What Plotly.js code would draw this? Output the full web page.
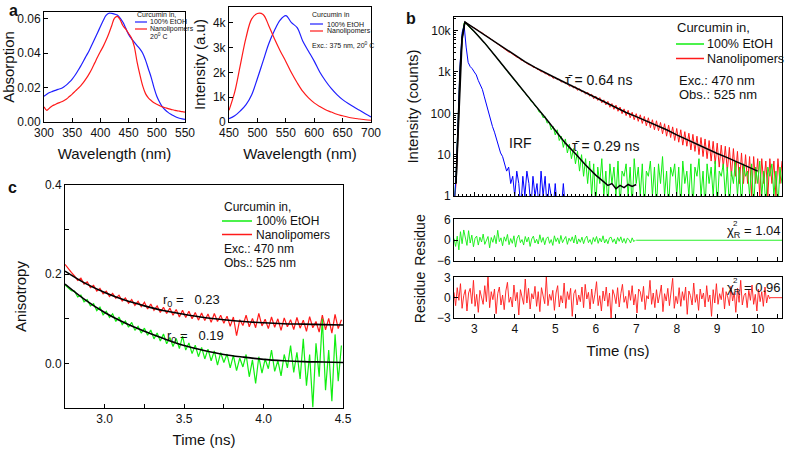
<!DOCTYPE html>
<html>
<head>
<meta charset="utf-8">
<script src="https://cdn.plot.ly/plotly-3.0.1.min.js"></script>
<style>html,body{margin:0;padding:0;background:#fff}</style>
</head>
<body>
<div id="chart" style="width:785px;height:450px"></div>
<script>
// ---- panel a: absorption (300-550 nm, every 5 nm) ----
const absStart = 300, absStep = 5;
const absEtOH = [0.0150, 0.0162, 0.0172, 0.0178, 0.0184, 0.0190, 0.0195, 0.0204, 0.0216, 0.0232,
  0.0250, 0.0272, 0.0298, 0.0325, 0.0355, 0.0385, 0.0415, 0.0450, 0.0485, 0.0520,
  0.0555, 0.0590, 0.0620, 0.0633, 0.0632, 0.0628, 0.0622, 0.0605, 0.0580, 0.0545,
  0.0510, 0.0485, 0.0465, 0.0445, 0.0425, 0.0400, 0.0360, 0.0310, 0.0260, 0.0200,
  0.0150, 0.0115, 0.0088, 0.0070, 0.0056, 0.0045, 0.0036, 0.0028, 0.0022, 0.0018, 0.0015];
const absNano = [0.0088, 0.0068, 0.0082, 0.0094, 0.0102, 0.0110, 0.0116, 0.0124, 0.0134, 0.0148,
  0.0162, 0.0178, 0.0194, 0.0210, 0.0230, 0.0254, 0.0280, 0.0310, 0.0344, 0.0378,
  0.0410, 0.0440, 0.0475, 0.0515, 0.0560, 0.0605, 0.0615, 0.0595, 0.0560, 0.0540,
  0.0515, 0.0490, 0.0440, 0.0350, 0.0275, 0.0210, 0.0165, 0.0140, 0.0125, 0.0112,
  0.0103, 0.0095, 0.0088, 0.0083, 0.0078, 0.0073, 0.0070, 0.0066, 0.0063, 0.0060, 0.0058];

// ---- panel a: emission (450-700 nm, every 10 nm) ----
const emStart = 450, emStep = 10;
const emEtOH = [130, 250, 450, 700, 1100, 1750, 2450, 3150, 3680, 4100, 4280, 4000, 3800,
  3250, 2850, 2450, 2000, 1650, 1350, 1100, 900, 740, 600, 470, 330, 200];
const emNano = [470, 1200, 2300, 3400, 4150, 4370, 4330, 3880, 3350, 2870, 2440, 1980, 1580,
  1230, 970, 770, 620, 490, 400, 310, 250, 190, 150, 120, 90, 70];

// ---- panel b: decays (counts, from 2.5 ns every 0.05 ns) ----
const decayStart = 2.5, decayStep = 0.05;
const decayNano = [0.5, 2, 45, 950, 6200, 14800, 15400, 14100, 13400, 12300,
  11700, 10700, 10200, 9300, 8900, 7900, 7500, 6900, 6500, 5900,
  5450, 4950, 4650, 4200, 4000, 3600, 3400, 3050, 2920, 2650,
  2540, 2290, 2180, 1960, 1880, 1740, 1690, 1500, 1470, 1300,
  1310, 1160, 1130, 1020, 1010, 910, 900, 800, 820, 700,
  750, 650, 670, 570, 590, 520, 540, 450, 480, 410,
  440, 360, 395, 330, 345, 290, 325, 260, 290, 225,
  262, 205, 240, 180, 212, 160, 195, 140, 172, 125,
  158, 112, 142, 98, 128, 88, 118, 78, 106, 70,
  98, 64, 92, 57, 84, 50, 78, 45, 70, 40,
  66, 38, 60, 32, 56, 28, 52, 26, 47, 22,
  43, 20, 40, 17, 36, 16, 33, 13, 31, 12,
  28, 10, 26, 9, 24, 8, 22, 7, 21, 6,
  19, 5, 17, 5, 16, 4, 15, 3, 14, 3,
  12, 2, 11, 2, 10, 2, 9, 1, 9, 2,
  8, 1, 8, 2, 7, 1, 8, 2, 7, 1,
  8, 2, 7];
const decayEtOH = [0.5, 3, 60, 1200, 7500, 15500, 14800, 12600, 11500, 10400,
  9600, 8600, 7500, 6700, 5800, 5100, 4500, 3950, 3400, 2950,
  2580, 2250, 1950, 1680, 1450, 1270, 1090, 960, 820, 730,
  620, 560, 460, 420, 350, 320, 265, 245, 195, 185,
  150, 140, 108, 104, 78, 84, 58, 62, 40, 48,
  30, 40, 22, 28, 15, 24, 11, 18, 8, 14,
  6, 12, 4, 10, 3, 8, 2, 7, 1, 6,
  0.5, 5, 2, 8, 1, 4, 0.5, 6, 2, 5,
  1, 7, 0.5, 4, 3, 6, 1, 5, 0.5, 8,
  2, 5, 1, 6, 0.5, 4, 3, 7, 1, 5,
  0.5, 6, 2, 9, 1, 4, 0.5, 5, 3, 6,
  1, 5, 0.5, 7, 2, 4, 1, 6, 0.5, 5,
  3, 8, 1, 4, 0.5, 6, 2, 5, 1, 7,
  0.5, 4, 3, 6, 1, 5, 0.5, 4, 2, 7,
  1, 5, 0.5, 6, 3, 4, 1, 6, 0.5, 5,
  2, 7, 1, 4, 0.5, 5, 3, 6, 1, 4,
  0.5, 5, 2];
const decayIRF = [0.5, 3, 60, 1500, 9000, 13500, 4000, 1700, 1350, 1200,
  1000, 850, 620, 480, 380, 250, 160, 100, 75, 48,
  35, 24, 18, 11, 9, 6, 4, 5, 2, 3,
  1, 4, 2, 0.5, 3, 1, 4, 2, 0.5, 3,
  1, 2, 0.5, 4, 1, 3, 0.5, 2, 1, 0.5,
  2, 0.5, 1, 0.5, 2, 0.5, 0.5, 1, 0.5, 1,
  0.5, 0.5, 1, 0.5, 0.5, 1, 0.5];

const fitNanoTime = [2.55, 2.6, 2.65, 2.7, 2.77, 3.0, 3.25, 3.5, 3.75, 4.0, 4.25, 4.5, 4.75, 5.0,
  5.25, 5.5, 5.75, 6.0, 6.25, 6.5, 6.75, 7.0, 7.25, 7.5, 7.75, 8.0, 8.25, 8.5, 8.75, 9.0,
  9.25, 9.5, 9.75, 10.0];
const fitNano = [2, 40, 900, 6000, 16200, 11500, 7760, 5370, 3630, 2510, 1780, 1290, 955, 724,
  550, 417, 316, 240, 182, 138, 105, 83, 66, 52, 40, 30, 23, 17.4, 13.5, 10.7,
  8.5, 6.6, 5.0, 4.0];
const fitEtOHTime = [2.55, 2.6, 2.65, 2.7, 2.77, 3.0, 3.25, 3.5, 3.75, 4.0, 4.25, 4.5, 4.75, 5.0,
  5.25, 5.5, 5.75, 6.0, 6.1, 6.2, 6.3, 6.4, 6.5, 6.6, 6.7, 6.8, 6.9, 7.0];
const fitEtOH = [2, 50, 1100, 7000, 16200, 9550, 5130, 2570, 1260, 630, 316, 158, 79, 38,
  19, 10.5, 5.6, 3.2, 2.7, 2.2, 1.8, 2.0, 1.5, 1.8, 1.6, 1.9, 1.7, 1.9];

// ---- panel b: residues (from 2.5 ns every 0.04 ns) ----
const resStart = 2.5, resStep = 0.04;
const resEtOH = [0.5, -1.8, 1.2, -2.8, 2.5, -1.0, 3.0, 0.4, -1.5, 2.8,
  -0.8, 1.5, -1.9, 0.6, 1.2, -1.4, 0.9, -0.5, 1.8, -1.2,
  0.3, 1.1, -2.2, 0.8, -0.6, 1.4, -1.0, 2.9, -0.4, 0.7,
  -1.6, 1.0, -0.3, 1.7, -1.3, 0.5, -0.9, 1.3, -2.0, 0.6,
  1.5, -0.7, 0.2, -1.4, 1.1, -0.5, 0.9, -1.8, 0.4, 1.2,
  -0.8, 0.3, -1.1, 1.6, -0.6, 0.8, -1.3, 0.5, 1.0, -0.9,
  0.2, -1.5, 1.3, -0.4, 0.7, -1.0, 1.4, -0.7, 0.3, 1.1,
  -1.2, 0.6, -0.3, 1.0, -0.8, 1.5, -1.1, 0.4, -0.6, 0.9,
  -1.0, 0.5, 1.2, -0.7, 0.2, -1.2, 0.8, -0.4, 1.1, -0.9,
  0.6, -0.5, 1.3, -0.8, 0.3, -1.0, 0.7, 0.9, -0.6, 0.4,
  -1.1, 0.8, -0.3, 1.0, -0.7, 0.5, -0.9, 0.6, 0.2, -0.8,
  0.7, -0.4, 0.1];
const resEtOHTailTime = [7.0, 10.6];
const resEtOHTail = [0, 0];
const resNano = [0.8, -1.2, 1.5, -0.4, 2.1, -1.6, 0.3, 1.2, -2.0, 0.7,
  1.4, -0.9, 2.6, -1.3, 0.5, -2.2, 1.1, 0.2, -1.0, 1.8,
  -0.6, 3.2, -1.5, 0.9, -0.3, 1.3, -2.4, 0.6, 1.6, -1.1,
  0.4, -1.8, 1.0, 2.3, -0.7, 0.1, -1.4, 1.9, -0.5, 0.8,
  -2.6, 1.2, 0.3, -1.0, 2.8, -0.8, 1.4, -1.7, 0.6, -0.2,
  1.7, -1.3, 0.9, -2.1, 1.5, 0.2, -0.9, 3.1, -1.2, 0.5,
  -0.4, 1.1, -1.9, 0.7, 1.8, -1.4, 0.3, -0.8, 2.2, -1.6,
  0.9, -0.3, 1.4, -2.8, 0.6, 1.2, -1.1, 0.4, -0.6, 1.6,
  -1.5, 2.0, -0.2, 0.8, -1.7, 1.3, -0.9, 0.5, 2.4, -1.2,
  0.3, -2.0, 1.0, -0.5, 1.6, -1.3, 0.7, -3.2, 1.2, 0.4,
  -0.9, 1.5, -1.4, 0.6, 2.0, -0.7, 0.2, -1.6, 1.1, -0.4,
  1.8, -1.1, 0.5, -2.3, 1.3, 0.9, -0.6, 1.7, -1.8, 0.3,
  -0.2, 2.6, -1.0, 0.7, -1.5, 1.2, -0.8, 0.4, 1.9, -2.1,
  0.6, -0.5, 1.4, -1.2, 0.8, 2.9, -1.6, 0.2, -0.9, 1.5,
  -1.3, 0.9, -0.4, 1.6, -2.5, 1.0, 0.3, -1.1, 2.2, -0.7,
  0.5, -1.9, 1.3, -0.2, 0.7, -1.4, 1.8, -0.6, 0.4, -2.8,
  1.2, -0.8, 2.1, -1.0, 0.6, -0.3, 1.5, -1.7, 0.9, 0.1,
  -1.2, 1.7, -0.5, 0.8, -2.2, 1.4, -0.7, 2.6, -1.1, 0.3,
  0.7, -1.5, 1.1, -0.4, 1.9, -1.0, 0.5, -2.0, 1.3, -0.6,
  0.9, -1.3, 1.6, -0.8, 0.4, -0.2];
const resNanoTailTime = [10.3, 10.6];
const resNanoTail = [0, 0];

// ---- panel c: anisotropy (from 2.75 ns every 0.02 ns) ----
const anisoStart = 2.75, anisoStep = 0.02;
const anisoNano = [0.222, 0.212, 0.204, 0.196, 0.186, 0.191, 0.178, 0.183, 0.170, 0.175,
  0.162, 0.168, 0.156, 0.162, 0.150, 0.157, 0.146, 0.153, 0.140, 0.147,
  0.135, 0.143, 0.130, 0.139, 0.127, 0.137, 0.122, 0.133, 0.119, 0.129,
  0.114, 0.126, 0.112, 0.124, 0.108, 0.121, 0.104, 0.119, 0.103, 0.117,
  0.100, 0.114, 0.097, 0.113, 0.096, 0.111, 0.092, 0.112, 0.094, 0.108,
  0.090, 0.106, 0.083, 0.104, 0.062, 0.098, 0.085, 0.108, 0.082, 0.101,
  0.080, 0.112, 0.084, 0.099, 0.078, 0.104, 0.081, 0.100, 0.074, 0.102,
  0.082, 0.098, 0.076, 0.103, 0.079, 0.097, 0.072, 0.105, 0.080, 0.094,
  0.070, 0.108, 0.075, 0.101, 0.068, 0.110, 0.078, 0.098];
const anisoEtOH = [0.176, 0.170, 0.163, 0.162, 0.149, 0.153, 0.138, 0.143, 0.129, 0.134,
  0.118, 0.126, 0.109, 0.117, 0.103, 0.111, 0.094, 0.104, 0.087, 0.095,
  0.081, 0.092, 0.074, 0.083, 0.068, 0.079, 0.063, 0.075, 0.055, 0.068,
  0.050, 0.066, 0.044, 0.058, 0.038, 0.056, 0.033, 0.061, 0.030, 0.046,
  0.022, 0.041, 0.015, 0.036, 0.010, 0.032, 0.006, 0.028, -0.004, 0.024,
  0.002, 0.021, -0.010, 0.018, -0.016, 0.012, -0.008, 0.020, -0.030, 0.008,
  -0.045, 0.015, -0.022, 0.010, -0.012, 0.030, -0.018, 0.006, -0.028, 0.020,
  -0.010, 0.040, -0.020, 0.025, -0.035, 0.055, -0.050, 0.020, -0.098, 0.045,
  -0.030, 0.100, -0.060, 0.030, -0.085, 0.065, -0.040, 0.040];
const anisoFitStart = 2.75, anisoFitStep = 0.125;
const anisoFitNano = [0.207, 0.180, 0.159, 0.142, 0.129, 0.118, 0.110, 0.103, 0.098, 0.094,
  0.091, 0.089, 0.088, 0.087, 0.086];
const anisoFitEtOH = [0.178, 0.143, 0.114, 0.091, 0.072, 0.055, 0.040, 0.029, 0.020, 0.014,
  0.009, 0.006, 0.004, 0.003, 0.002];

const W = 785, H = 450;
const BLUE = '#1f1fff', RED = '#ff1a1a', GREEN = '#11ee11';
const FONT = 'Liberation Sans, Arial, sans-serif';

function dx(l, r) { return [l / W, r / W]; }
function dy(t, b) { return [1 - b / H, 1 - t / H]; }

function axis(extra) {
  return Object.assign({
    showline: true, mirror: true, linecolor: '#000', linewidth: 1,
    ticks: 'inside', ticklen: 4, tickcolor: '#000', showgrid: false, zeroline: false,
    tickfont: { size: 12, color: '#111' }
  }, extra);
}

function line(color, width) { return { color: color, width: width || 1 }; }

const traces = [
  { x0: absStart, dx: absStep, y: absEtOH, xaxis: 'x', yaxis: 'y', mode: 'lines', line: Object.assign(line(BLUE, 1.2), { shape: 'spline' }) },
  { x0: absStart, dx: absStep, y: absNano, xaxis: 'x', yaxis: 'y', mode: 'lines', line: Object.assign(line(RED, 1.2), { shape: 'spline' }) },
  { x0: emStart, dx: emStep, y: emEtOH, xaxis: 'x2', yaxis: 'y2', mode: 'lines', line: Object.assign(line(BLUE, 1.2), { shape: 'spline' }) },
  { x0: emStart, dx: emStep, y: emNano, xaxis: 'x2', yaxis: 'y2', mode: 'lines', line: Object.assign(line(RED, 1.2), { shape: 'spline' }) },

  { x0: decayStart, dx: decayStep, y: decayNano, xaxis: 'x3', yaxis: 'y3', mode: 'lines', line: line(RED) },
  { x0: decayStart, dx: decayStep, y: decayEtOH, xaxis: 'x3', yaxis: 'y3', mode: 'lines', line: line(GREEN) },
  { x0: decayStart, dx: decayStep, y: decayIRF, xaxis: 'x3', yaxis: 'y3', mode: 'lines', line: line('#0000ff') },
  { x: fitNanoTime, y: fitNano, xaxis: 'x3', yaxis: 'y3', mode: 'lines', line: line('#000', 1.5) },
  { x: fitEtOHTime, y: fitEtOH, xaxis: 'x3', yaxis: 'y3', mode: 'lines', line: line('#000', 1.5) },

  { x0: resStart, dx: resStep, y: resEtOH, xaxis: 'x4', yaxis: 'y4', mode: 'lines', line: line(GREEN, 0.9) },
  { x: resEtOHTailTime, y: resEtOHTail, xaxis: 'x4', yaxis: 'y4', mode: 'lines', line: line(GREEN, 0.9) },
  { x0: resStart, dx: resStep, y: resNano, xaxis: 'x5', yaxis: 'y5', mode: 'lines', line: line(RED, 0.9) },
  { x: resNanoTailTime, y: resNanoTail, xaxis: 'x5', yaxis: 'y5', mode: 'lines', line: line(RED, 0.9) },

  { x0: anisoStart, dx: anisoStep, y: anisoNano, xaxis: 'x6', yaxis: 'y6', mode: 'lines', line: line(RED, 1.2) },
  { x0: anisoStart, dx: anisoStep, y: anisoEtOH, xaxis: 'x6', yaxis: 'y6', mode: 'lines', line: line(GREEN, 1.2) },
  { x0: anisoFitStart, dx: anisoFitStep, y: anisoFitNano, xaxis: 'x6', yaxis: 'y6', mode: 'lines', line: Object.assign(line('#000', 1.6), { shape: 'spline' }) },
  { x0: anisoFitStart, dx: anisoFitStep, y: anisoFitEtOH, xaxis: 'x6', yaxis: 'y6', mode: 'lines', line: Object.assign(line('#000', 1.6), { shape: 'spline' }) }
];

function note(text, x, y, size, extra) {
  return Object.assign({
    text: text, x: x / W, y: 1 - y / H, xref: 'paper', yref: 'paper',
    xanchor: 'left', yanchor: 'middle', showarrow: false,
    font: { size: size, color: '#111' }
  }, extra || {});
}
function key(x1, x2, y, color, width) {
  return { type: 'line', xref: 'paper', yref: 'paper', x0: x1 / W, x1: x2 / W,
    y0: 1 - y / H, y1: 1 - y / H, line: { color: color, width: width || 1.5 } };
}

const timeRange = [2.5, 10.6];

const layout = {
  width: W, height: H,
  margin: { l: 0, r: 0, t: 0, b: 0 },
  paper_bgcolor: '#fff', plot_bgcolor: '#fff',
  showlegend: false,
  font: { family: FONT, color: '#111' },

  xaxis: axis({ domain: dx(44, 185), anchor: 'y', range: [300, 550], dtick: 50, tick0: 300,
    title: { text: 'Wavelength (nm)', font: { size: 15 }, standoff: 9 } }),
  yaxis: axis({ domain: dy(12, 122), anchor: 'x', range: [0, 0.064], dtick: 0.02, tickformat: '.2f',
    title: { text: 'Absorption', font: { size: 15 }, standoff: 2 } }),

  xaxis2: axis({ domain: dx(229, 371), anchor: 'y2', range: [450, 700], dtick: 50, tick0: 450,
    title: { text: 'Wavelength (nm)', font: { size: 15 }, standoff: 9 } }),
  yaxis2: axis({ domain: dy(7, 122), anchor: 'x2', range: [0, 4630], dtick: 1000, tickformat: '~s',
    title: { text: 'Intensity (a.u)', font: { size: 15 }, standoff: 3 } }),

  xaxis3: axis({ domain: dx(454, 782), anchor: 'y3', range: timeRange, dtick: 1, tick0: 3,
    showticklabels: false, ticklen: 4, minor: { ticks: 'inside', ticklen: 2, dtick: 0.1, tickcolor: '#000' } }),
  yaxis3: axis({ domain: dy(17, 196), anchor: 'x3', type: 'log', range: [0, 4.33], dtick: 1,
    tickformat: '~s', minor: { ticks: 'inside', ticklen: 2, dtick: 'D1', tickcolor: '#000' },
    title: { text: 'Intensity (counts)', font: { size: 15 }, standoff: 8 } }),

  xaxis4: axis({ domain: dx(454, 782), anchor: 'y4', range: timeRange, dtick: 0.5, tick0: 3,
    showticklabels: false }),
  yaxis4: axis({ domain: dy(219, 261), anchor: 'x4', range: [-6.05, 6.2], tickvals: [-6, 0, 6],
    title: { text: 'Residue', font: { size: 14 }, standoff: 8 } }),

  xaxis5: axis({ domain: dx(454, 782), anchor: 'y5', range: timeRange, dtick: 1, tick0: 3,
    minor: { ticks: 'inside', ticklen: 4, dtick: 0.5, tickcolor: '#000' },
    title: { text: 'Time (ns)', font: { size: 15 }, standoff: 10 } }),
  yaxis5: axis({ domain: dy(277, 318), anchor: 'x5', range: [-3.05, 3.1], tickvals: [-3, 0, 3],
    title: { text: 'Residue', font: { size: 14 }, standoff: 8 } }),

  xaxis6: axis({ domain: dx(65, 343), anchor: 'y6', range: [2.75, 4.5], dtick: 0.5, tick0: 3,
    tickformat: '.1f', minor: { ticks: 'inside', ticklen: 4, dtick: 0.25, tickcolor: '#000' },
    title: { text: 'Time (ns)', font: { size: 15 }, standoff: 9 } }),
  yaxis6: axis({ domain: dy(185, 408), anchor: 'x6', range: [-0.1, 0.4], dtick: 0.2, tick0: 0,
    tickformat: '.1f', minor: { ticks: 'inside', ticklen: 4, dtick: 0.1, tickcolor: '#000' },
    title: { text: 'Anisotropy', font: { size: 15 }, standoff: 14 } }),

  shapes: [
    key(135, 147, 22, BLUE, 1.2), key(135, 147, 29, RED, 1.2),
    key(310, 323, 24, BLUE, 1.2), key(310, 323, 31, RED, 1.2),
    key(676, 704, 44, GREEN), key(676, 704, 58.5, RED),
    key(222, 252, 221, GREEN), key(222, 252, 234.5, RED)
  ],

  annotations: [
    note('<b>a</b>', 7, 10, 16),
    note('<b>b</b>', 404, 18, 16),
    note('<b>c</b>', 6, 187, 16),

    note('Curcumin in,', 135, 15, 7),
    note('100% EtOH', 148, 22, 7),
    note('Nanolipomers', 148, 29, 7),
    note('20<sup>0</sup> C', 148, 36, 7),

    note('Curcumin in', 310, 15, 7),
    note('100% EtOH', 325, 24, 7),
    note('Nanolipomers', 325, 31, 7),
    note('Exc.: 375 nm, 20<sup>0</sup> C', 310, 45, 7),

    note('Curcumin in,', 675, 27, 13),
    note('100% EtOH', 705, 44, 12.5),
    note('Nanolipomers', 705, 58.5, 12.5),
    note('Exc.: 470 nm', 677, 80, 13),
    note('Obs.: 525 nm', 677, 94, 13),
    note('\u03C4\u0304 = 0.64 ns', 563, 80, 14),
    note('\u03C4\u0304 = 0.29 ns', 570, 146, 14),
    note('IRF', 507, 143, 14),

    note('\u03C7<sub>R</sub> = 1.04', 725, 231, 13),
    note('2', 731, 223, 8),
    note('\u03C7<sub>R</sub> = 0.96', 725, 288, 13),
    note('2', 731, 280, 8),

    note('Curcumin in,', 222, 207, 12),
    note('100% EtOH', 254, 221, 12),
    note('Nanolipomers', 254, 234.5, 12),
    note('Exc.: 470 nm', 222, 249, 12),
    note('Obs.: 525 nm', 222, 262.5, 12),
    note('r<sub>0</sub> =&nbsp;&nbsp; 0.23', 161, 300, 13),
    note('r<sub>0</sub> =&nbsp;&nbsp; 0.19', 165, 336, 13)
  ]
};

Plotly.newPlot('chart', traces, layout, { staticPlot: true, displayModeBar: false });
</script>
</body>
</html>
